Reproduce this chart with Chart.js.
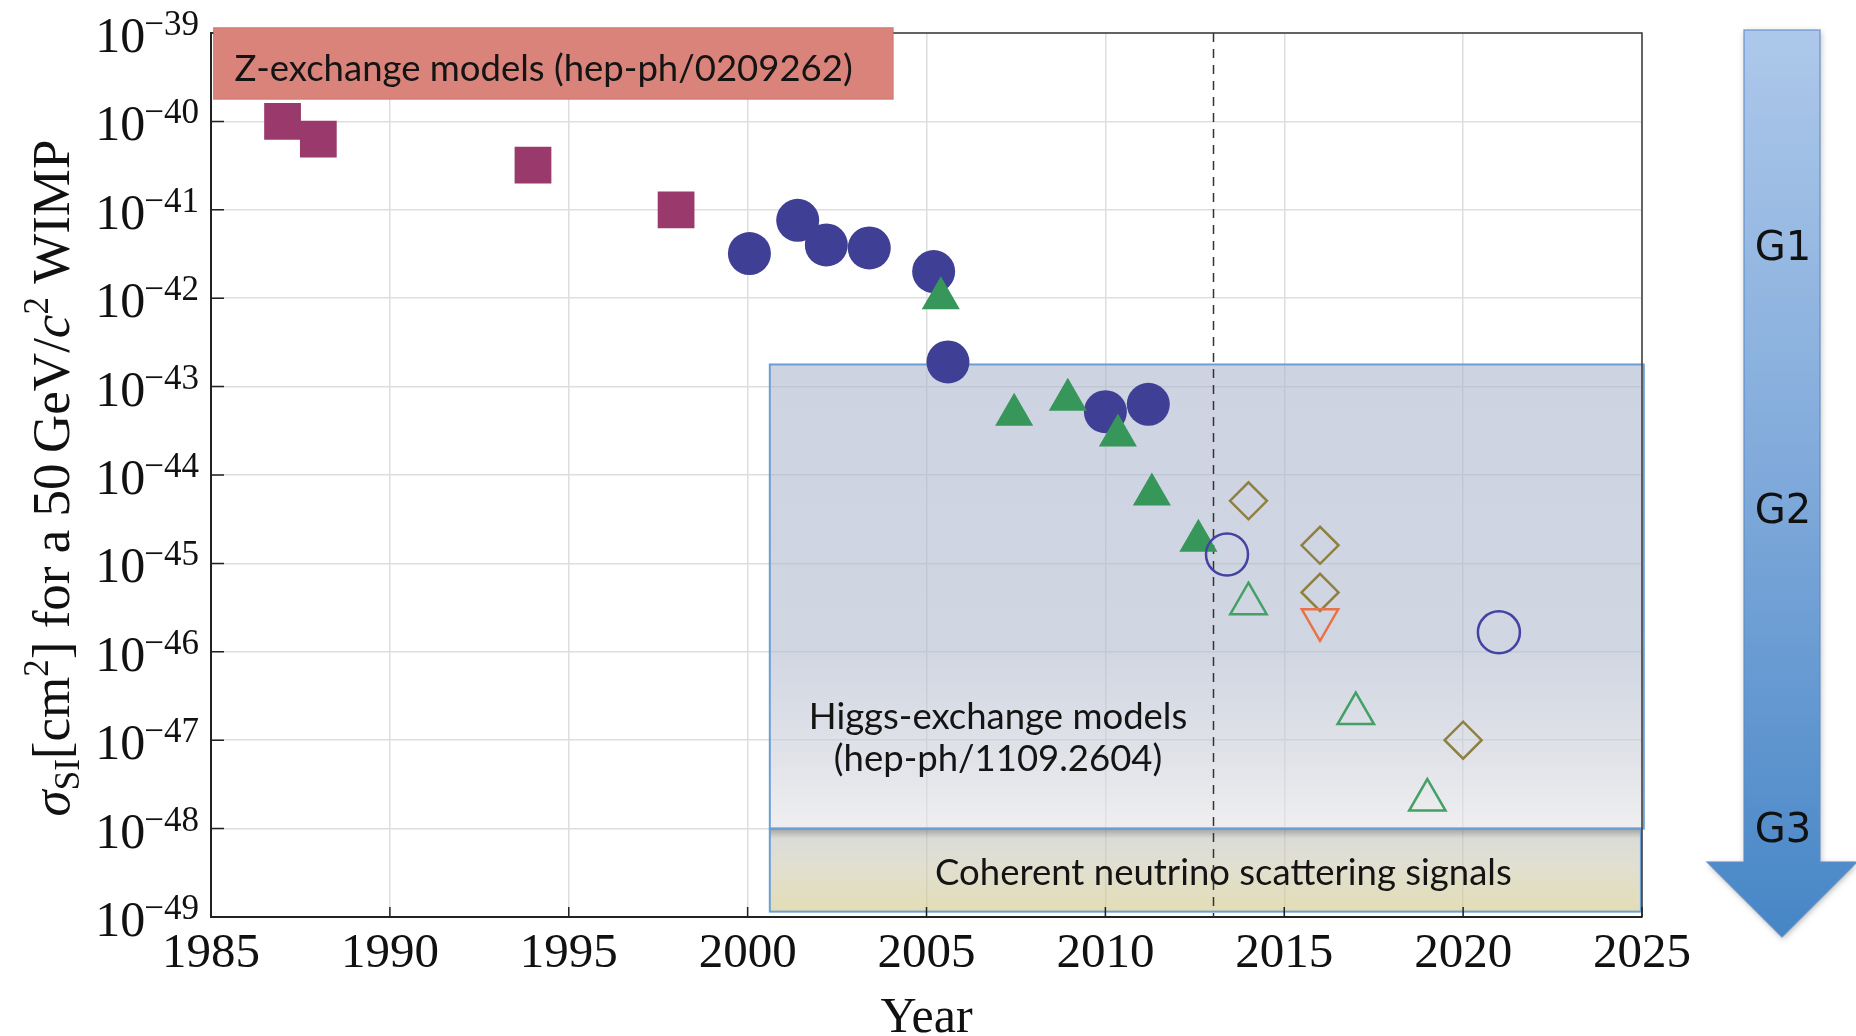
<!DOCTYPE html>
<html>
<head>
<meta charset="utf-8">
<title>WIMP cross-section limits by year</title>
<script src="https://cdn.jsdelivr.net/npm/chart.js@4.4.0/dist/chart.umd.min.js"></script>
<style>
  html, body { margin: 0; padding: 0; background: #ffffff; }
  #wrap { width: 1856px; height: 1036px; position: relative; }
</style>
</head>
<body>
<div id="wrap"><canvas id="limitChart" width="1856" height="1036"></canvas></div>
<script>
// Axis ticks
const xTicks = [1985, 1990, 1995, 2000, 2005, 2010, 2015, 2020, 2025];
const yExponents = [-39, -40, -41, -42, -43, -44, -45, -46, -47, -48, -49];

// Experiments, sigma_SI in cm^2 for a 50 GeV WIMP
const squareYears = [1987, 1988, 1994, 1998];
const squareSigma = [1.0e-40, 6.3e-41, 3.2e-41, 1.0e-41];

const filledCircleYears = [2000.05, 2001.4, 2002.2, 2003.4, 2005.2, 2005.6, 2010.0, 2011.2];
const filledCircleSigma = [3.2e-42, 7.6e-42, 4.0e-42, 3.7e-42, 2.0e-42, 1.9e-43, 5.2e-44, 6.3e-44];

const filledTriangleYears = [2005.4, 2007.45, 2008.95, 2010.35, 2011.3, 2012.6];
const filledTriangleSigma = [1.0e-42, 4.8e-44, 7.1e-44, 2.8e-44, 6.0e-45, 1.8e-45];

const openCircleYears = [2013.4, 2021.0];
const openCircleSigma = [1.26e-45, 1.66e-46];

const openDiamondYears = [2014.0, 2016.0, 2016.0, 2020.0];
const openDiamondSigma = [5.1e-45, 1.6e-45, 4.7e-46, 1.0e-47];

const openTriangleYears = [2014.0, 2017.0, 2019.0];
const openTriangleSigma = [3.5e-46, 2.0e-47, 2.1e-48];

const downTriangleYears = [2016.0];
const downTriangleSigma = [2.3e-46];

// Shaded regions, in data units
const zRegion = { x0: 1985.07, x1: 2004.07, y0: 1.15e-39, y1: 1.78e-40, label: 'Z-exchange models (hep-ph/0209262)' };
const higgsRegion = { x0: 2000.62, x1: 2025.05, y0: 1.78e-43, y1: 1.0e-48, label: ['Higgs-exchange models', '(hep-ph/1109.2604)'], labelX: 2007, labelY: 1.05e-47 };
const nuRegion = { x0: 2000.62, x1: 2024.97, y0: 1.0e-48, y1: 1.15e-49, label: 'Coherent neutrino scattering signals', labelX: 2013.3, labelY: 3.1e-49 };
const markerYear = 2013;

const SERIF = '"Liberation Serif", "DejaVu Serif", serif';
const SANS = 'Lato, "Open Sans", sans-serif';

function toPoints(xs, ys) {
  return xs.map((x, i) => ({ x: x, y: ys[i] }));
}

function regionRect(chart, r) {
  const xs = chart.scales.x, ys = chart.scales.y;
  const x0 = xs.getPixelForValue(r.x0), x1 = xs.getPixelForValue(r.x1);
  const y0 = ys.getPixelForValue(r.y0), y1 = ys.getPixelForValue(r.y1);
  return { x: x0, y: y0, w: x1 - x0, h: y1 - y0 };
}

function fillGradient(ctx, rc, stops) {
  const g = ctx.createLinearGradient(0, rc.y, 0, rc.y + rc.h);
  stops.forEach(s => g.addColorStop(s[0], s[1]));
  ctx.fillStyle = g;
  ctx.fillRect(rc.x, rc.y, rc.w, rc.h);
}

function drawRich(ctx, parts, cx, cy) {
  let total = 0;
  parts.forEach(p => { ctx.font = p.font; p.w = ctx.measureText(p.t).width; total += p.w; });
  let x = cx - total / 2;
  ctx.textAlign = 'left';
  ctx.textBaseline = 'alphabetic';
  parts.forEach(p => { ctx.font = p.font; ctx.fillText(p.t, x, cy + (p.dy || 0)); x += p.w; });
}

const decorPlugin = {
  id: 'decor',
  beforeDatasetsDraw(chart) {
    const ctx = chart.ctx;
    const area = chart.chartArea;
    const xs = chart.scales.x, ys = chart.scales.y;
    ctx.save();

    // Higgs-exchange band
    const h = regionRect(chart, higgsRegion);
    fillGradient(ctx, h, [
      [0, 'rgba(172,182,205,0.6)'],
      [0.6, 'rgba(176,186,206,0.6)'],
      [0.85, 'rgba(205,208,218,0.6)'],
      [1, 'rgba(228,228,230,0.6)']
    ]);
    // neutrino floor band
    const n = regionRect(chart, nuRegion);
    fillGradient(ctx, n, [
      [0, 'rgba(120,120,118,0.7)'],
      [0.12, 'rgba(196,196,188,0.6)'],
      [0.45, 'rgba(205,202,178,0.6)'],
      [1, 'rgba(208,198,132,0.6)']
    ]);
    ctx.strokeStyle = '#6a9fd6';
    ctx.lineWidth = 2;
    ctx.strokeRect(h.x, h.y, h.w, h.h);
    ctx.strokeRect(n.x, n.y, n.w, n.h);

    // band labels
    ctx.fillStyle = '#141414';
    ctx.font = '36.5px ' + SANS;
    ctx.textAlign = 'center';
    ctx.textBaseline = 'middle';
    const hx = xs.getPixelForValue(higgsRegion.labelX);
    const hy = ys.getPixelForValue(higgsRegion.labelY);
    ctx.fillText(higgsRegion.label[0], hx, hy - 21);
    ctx.fillText(higgsRegion.label[1], hx, hy + 21);
    ctx.fillText(nuRegion.label, xs.getPixelForValue(nuRegion.labelX), ys.getPixelForValue(nuRegion.labelY));

    // dashed year marker
    const mx = Math.round(xs.getPixelForValue(markerYear)) + 0.5;
    ctx.strokeStyle = '#333333';
    ctx.lineWidth = 1.5;
    ctx.setLineDash([9, 7]);
    ctx.beginPath();
    ctx.moveTo(mx, area.top);
    ctx.lineTo(mx, area.bottom);
    ctx.stroke();
    ctx.restore();
  },
  afterDraw(chart) {
    const ctx = chart.ctx;
    const area = chart.chartArea;
    const xs = chart.scales.x, ys = chart.scales.y;
    ctx.save();

    // top and right frame
    ctx.strokeStyle = '#3a3a3a';
    ctx.lineWidth = 1.5;
    ctx.beginPath();
    ctx.moveTo(area.left, area.top);
    ctx.lineTo(area.right, area.top);
    ctx.lineTo(area.right, area.bottom);
    ctx.stroke();

    // inward tick marks
    ctx.strokeStyle = '#222222';
    ctx.lineWidth = 1.5;
    ctx.beginPath();
    yExponents.forEach(e => {
      const y = ys.getPixelForValue(Math.pow(10, e));
      ctx.moveTo(area.left, y);
      ctx.lineTo(area.left + 13, y);
    });
    xTicks.forEach(t => {
      const x = xs.getPixelForValue(t);
      ctx.moveTo(x, area.bottom);
      ctx.lineTo(x, area.bottom - 10);
    });
    ctx.stroke();

    // Z-exchange box
    const z = regionRect(chart, zRegion);
    ctx.fillStyle = '#d9837a';
    ctx.fillRect(z.x, z.y, z.w, z.h);
    ctx.strokeStyle = 'rgba(190,100,92,0.6)';
    ctx.lineWidth = 1;
    ctx.strokeRect(z.x, z.y, z.w, z.h);
    ctx.fillStyle = '#141414';
    ctx.font = '36.5px ' + SANS;
    ctx.textAlign = 'left';
    ctx.textBaseline = 'middle';
    ctx.fillText(zRegion.label, z.x + 21, z.y + z.h / 2 + 6);

    // y tick labels 10^-n
    ctx.fillStyle = '#111111';
    ctx.textAlign = 'right';
    ctx.textBaseline = 'alphabetic';
    yExponents.forEach(e => {
      const y = ys.getPixelForValue(Math.pow(10, e));
      const ex = '\u2212' + String(-e);
      ctx.font = '35px ' + SERIF;
      const ew = ctx.measureText(ex).width;
      ctx.fillText(ex, area.left - 12, y + 2);
      ctx.font = '50px ' + SERIF;
      ctx.fillText('10', area.left - 12 - ew + 1, y + 19);
    });

    // x tick labels
    ctx.font = '49px ' + SERIF;
    ctx.textAlign = 'center';
    xTicks.forEach(t => {
      ctx.fillText(String(t), xs.getPixelForValue(t), area.bottom + 50);
    });

    // x title
    ctx.font = '50px ' + SERIF;
    ctx.fillText('Year', (area.left + area.right) / 2, 1032);

    // y title, rotated
    ctx.translate(69, (area.top + area.bottom) / 2 + 3);
    ctx.rotate(-Math.PI / 2);
    const main = '53px ' + SERIF;
    const ital = 'italic 53px ' + SERIF;
    const small = '35px ' + SERIF;
    drawRich(ctx, [
      { t: '\u03c3', font: ital },
      { t: 'SI', font: small, dy: 10 },
      { t: '[cm', font: main },
      { t: '2', font: small, dy: -21 },
      { t: '] for a 50\u2009GeV/', font: main },
      { t: 'c', font: ital },
      { t: '2', font: small, dy: -21 },
      { t: ' WIMP', font: main }
    ], 0, 0);
    ctx.setTransform(1, 0, 0, 1, 0, 0);

    // generation arrow on the right
    ctx.save();
    ctx.shadowColor = 'rgba(0,0,0,0.28)';
    ctx.shadowBlur = 6;
    ctx.shadowOffsetX = 1;
    ctx.shadowOffsetY = 2;
    const grad = ctx.createLinearGradient(0, 30, 0, 937);
    grad.addColorStop(0, '#adc8ea');
    grad.addColorStop(0.5, '#7fa9da');
    grad.addColorStop(1, '#4686c6');
    ctx.fillStyle = grad;
    ctx.beginPath();
    ctx.moveTo(1744, 30);
    ctx.lineTo(1820, 30);
    ctx.lineTo(1820, 862);
    ctx.lineTo(1857, 862);
    ctx.lineTo(1782, 937);
    ctx.lineTo(1707, 862);
    ctx.lineTo(1744, 862);
    ctx.closePath();
    ctx.fill();
    ctx.restore();
    ctx.strokeStyle = 'rgba(90,140,200,0.7)';
    ctx.lineWidth = 1.5;
    ctx.stroke();

    ctx.fillStyle = '#111111';
    ctx.font = '40px "DejaVu Sans", sans-serif';
    ctx.textAlign = 'center';
    ctx.textBaseline = 'middle';
    ctx.fillText('G1', 1783, 250);
    ctx.fillText('G2', 1783, 513);
    ctx.fillText('G3', 1783, 832);
    ctx.restore();
  }
};

const ctx = document.getElementById('limitChart');
new Chart(ctx, {
  type: 'scatter',
  data: {
    datasets: [
      {
        label: 'Early germanium / NaI',
        data: toPoints(squareYears, squareSigma),
        pointStyle: 'rect', pointRadius: 26,
        backgroundColor: '#9a3a6c', borderColor: '#9a3a6c', borderWidth: 0,
        order: 7
      },
      {
        label: 'Filled circles',
        data: toPoints(filledCircleYears, filledCircleSigma),
        pointStyle: 'circle', pointRadius: 21.5,
        backgroundColor: '#3f3f96', borderColor: '#3f3f96', borderWidth: 0,
        order: 6
      },
      {
        label: 'Filled triangles',
        data: toPoints(filledTriangleYears, filledTriangleSigma),
        pointStyle: 'triangle', pointRadius: 22,
        backgroundColor: '#379659', borderColor: '#379659', borderWidth: 0,
        order: 5
      },
      {
        label: 'Open circles',
        data: toPoints(openCircleYears, openCircleSigma),
        pointStyle: 'circle', pointRadius: 21,
        backgroundColor: 'rgba(0,0,0,0)', borderColor: '#4343a3', borderWidth: 2.5,
        order: 4
      },
      {
        label: 'Open diamonds',
        data: toPoints(openDiamondYears, openDiamondSigma),
        pointStyle: 'rectRot', pointRadius: 18.5,
        backgroundColor: 'rgba(0,0,0,0)', borderColor: '#8f8040', borderWidth: 2.5,
        order: 3
      },
      {
        label: 'Open triangles',
        data: toPoints(openTriangleYears, openTriangleSigma),
        pointStyle: 'triangle', pointRadius: 21,
        backgroundColor: 'rgba(0,0,0,0)', borderColor: '#45a066', borderWidth: 2.5,
        order: 2
      },
      {
        label: 'Inverted triangle',
        data: toPoints(downTriangleYears, downTriangleSigma),
        pointStyle: 'triangle', pointRadius: 21, pointRotation: 180,
        backgroundColor: 'rgba(0,0,0,0)', borderColor: '#ea7248', borderWidth: 2.5,
        order: 1
      }
    ]
  },
  plugins: [decorPlugin],
  options: {
    responsive: false,
    animation: false,
    events: [],
    layout: { padding: { top: 33, right: 214, left: 0, bottom: 0 } },
    plugins: {
      legend: { display: false },
      tooltip: { enabled: false },
      title: { display: false }
    },
    scales: {
      x: {
        type: 'linear',
        min: 1985,
        max: 2025,
        afterBuildTicks: (axis) => { axis.ticks = xTicks.map(v => ({ value: v })); },
        afterFit: (s) => { s.height = 119; },
        ticks: { display: false },
        grid: { color: '#dedede', lineWidth: 1.5, drawTicks: false },
        border: { display: true, color: '#222222', width: 2 }
      },
      y: {
        type: 'logarithmic',
        min: 1e-49,
        max: 1e-39,
        afterBuildTicks: (axis) => { axis.ticks = yExponents.map(e => ({ value: Math.pow(10, e) })); },
        afterFit: (s) => { s.width = 211; },
        ticks: { display: false },
        grid: { color: '#dedede', lineWidth: 1.5, drawTicks: false },
        border: { display: true, color: '#222222', width: 2 }
      }
    }
  }
});
</script>
</body>
</html>
